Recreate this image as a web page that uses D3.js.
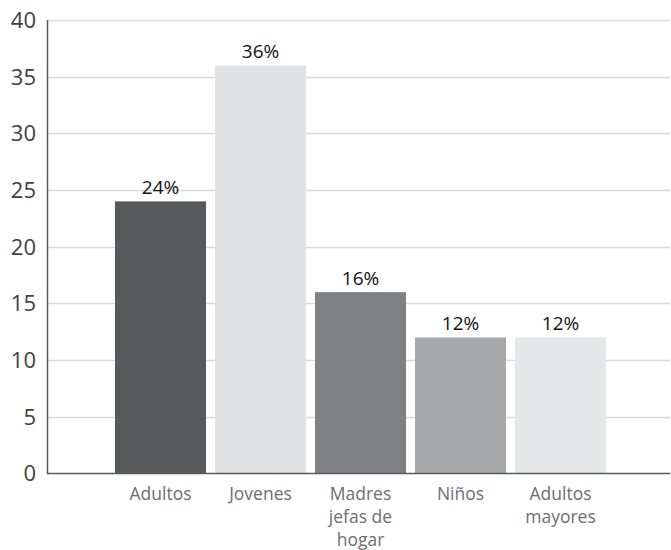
<!DOCTYPE html>
<html><head><meta charset="utf-8">
<script src="https://cdn.jsdelivr.net/npm/d3@7"></script>
<style>body{margin:0;background:#fff}svg{display:block}</style>
</head><body>
<svg id="c" width="671" height="550"></svg>
<script>
const categories = ["Adultos", "Jovenes", "Madres jefas de hogar", "Niños", "Adultos mayores"];
const categoryLines = [["Adultos"], ["Jovenes"], ["Madres", "jefas de", "hogar"], ["Niños"], ["Adultos", "mayores"]];
const values = [24, 36, 16, 12, 12];
const valueLabels = ["24%", "36%", "16%", "12%", "12%"];
const barColors = ["#58595b", "#e1e2e3", "#808184", "#a7a8aa", "#e6e7e8"];
const yTicks = [0, 5, 10, 15, 20, 25, 30, 35, 40];

const font = "'Open Sans', 'Noto Sans', sans-serif";
const svg = d3.select("#c");
const y = d3.scaleLinear().domain([0, 40]).range([473.5, 20]);
const x = d3.scaleBand().domain(categories).range([110.5, 610.5]).paddingInner(0.09).paddingOuter(0.045);
const xLeft = 47.5, xRight = 670;

// gridlines
svg.append("g").selectAll("line").data(yTicks.filter(d => d > 0)).join("line")
  .attr("x1", xLeft).attr("x2", xRight)
  .attr("y1", d => Math.round(y(d)) + 0.5).attr("y2", d => Math.round(y(d)) + 0.5)
  .attr("stroke", "#d9d9d9").attr("stroke-width", 1.5);

// y tick labels
svg.append("g").selectAll("text").data(yTicks).join("text")
  .attr("x", 36).attr("y", d => y(d)).attr("dy", "0.36em")
  .attr("text-anchor", "end").attr("font-family", font).attr("font-size", 22)
  .attr("fill", "#414042").text(d => d);

// bars
svg.append("g").selectAll("rect").data(values).join("rect")
  .attr("x", (d, i) => x(categories[i])).attr("width", x.bandwidth())
  .attr("y", d => y(d)).attr("height", d => y(0) - y(d))
  .attr("fill", (d, i) => barColors[i]);

// baseline and y axis line
svg.append("line").attr("x1", xLeft).attr("x2", xRight).attr("y1", y(0)).attr("y2", y(0))
  .attr("stroke", "#58595b").attr("stroke-width", 1.5);
svg.append("line").attr("x1", xLeft).attr("x2", xLeft).attr("y1", y(40)).attr("y2", y(0) + 0.75)
  .attr("stroke", "#58595b").attr("stroke-width", 1.5);

// value labels
svg.append("g").selectAll("text").data(values).join("text")
  .attr("x", (d, i) => x(categories[i]) + x.bandwidth() / 2)
  .attr("y", d => y(d) - 7)
  .attr("text-anchor", "middle").attr("font-family", font).attr("font-size", 19)
  .attr("fill", "#111").text((d, i) => valueLabels[i]);

// category labels
const cg = svg.append("g").selectAll("text").data(categories).join("text")
  .attr("text-anchor", "middle").attr("font-family", font).attr("font-size", 17.5)
  .attr("fill", "#6d6e71");
cg.each(function(d, i) {
  const t = d3.select(this);
  categoryLines[i].forEach((ln, j) => {
    t.append("tspan").attr("x", x(d) + x.bandwidth() / 2).attr("y", 500 + j * 23).text(ln);
  });
});
</script>
</body></html>
